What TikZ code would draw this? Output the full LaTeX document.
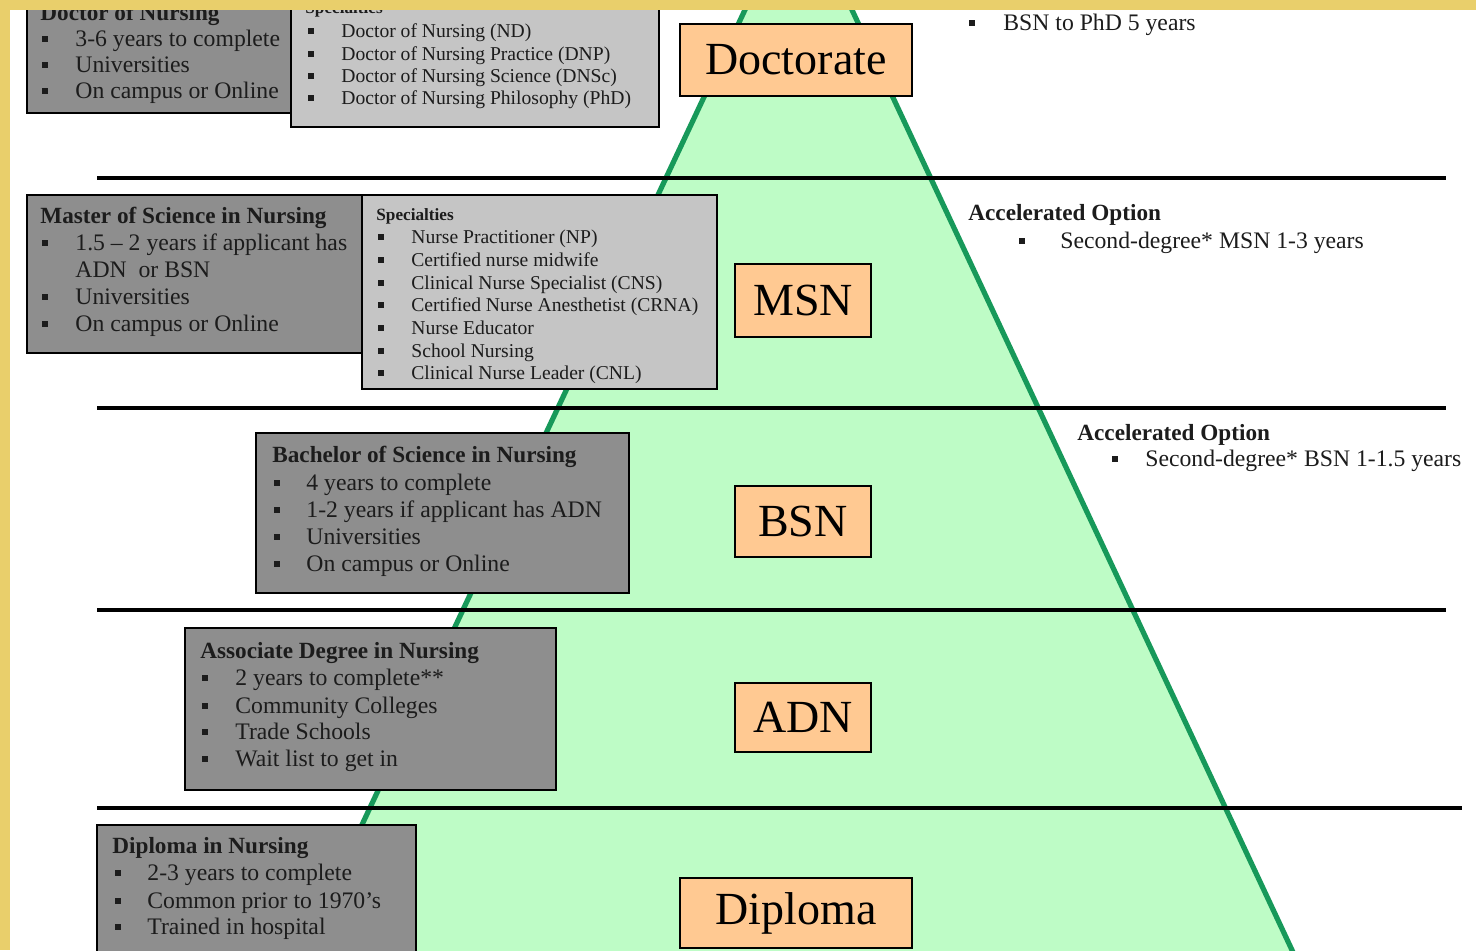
\documentclass[tikz,border=0pt]{standalone}
\usepackage{fontspec}
\setmainfont{Liberation Serif}
\definecolor{yband}{HTML}{E9CF6B}
\definecolor{pyrfill}{HTML}{BEFCC6}
\definecolor{pyredge}{HTML}{17995A}
\definecolor{darkgraybox}{HTML}{8E8E8E}
\definecolor{lightgraybox}{HTML}{C5C5C5}
\definecolor{degorange}{HTML}{FFC992}
\definecolor{textcol}{HTML}{1C1C1C}
\newcommand{\rbox}[6]{\node[#2, minimum width={(#5-#3)*0.5pt}, minimum height={(#6-#4)*0.5pt}] (#1) at ({(#3+#5)/2},{(#4+#6)/2}) {};}
\newcommand{\tline}[5]{\node[#2, anchor=base west] (#1) at (#3,#4) {#5};}
\newcommand{\bu}[3]{\node[sqb] (#1) at (#2,#3) {};}
\begin{document}
\begin{tikzpicture}[x=0.5pt,y=-0.5pt,
  darkbx/.style={rectangle, fill=darkgraybox, draw=black, line width=0.8pt, inner sep=0pt, outer sep=0pt},
  lightbx/.style={rectangle, fill=lightgraybox, draw=black, line width=0.8pt, inner sep=0pt, outer sep=0pt},
  degbox/.style={rectangle, fill=degorange, draw=black, line width=1.3pt, inner sep=0pt, outer sep=0pt, font=\fontsize{23}{27}\selectfont, text=black},
  sep/.style={line width=1.8pt, black},
  pedge/.style={line width=2.6pt, pyredge},
  bodytxt/.style={font=\fontsize{11.85}{13.5}\selectfont, text=textcol, inner sep=0pt},
  bodybold/.style={font=\fontsize{11.6}{13.5}\selectfont\bfseries, text=textcol, inner sep=0pt},
  spectxt/.style={font=\fontsize{9.8}{11}\selectfont, text=textcol, inner sep=0pt},
  specbold/.style={font=\fontsize{8.6}{10}\selectfont\bfseries, text=textcol, inner sep=0pt},
  sqb/.style={rectangle, fill=textcol, draw=none, minimum size=2.8pt, inner sep=0pt}]
\useasboundingbox (0,0) rectangle (1476,950);
\clip (0,0) rectangle (1476,950);
\fill[white] (0,0) rectangle (1476,950);
% pyramid
\coordinate (tL) at (759,-20);
\coordinate (tR) at (838,-20);
\coordinate (bL) at (289,980);
\coordinate (bR) at (1306,980);
\fill[pyrfill] (tL) -- (tR) -- (bR) -- (bL) -- cycle;
\draw[pedge] (tL) -- (bL);
\draw[pedge] (tR) -- (bR);
% separators
\coordinate (s1a) at (97,178);  \coordinate (s1b) at (1446,178);
\coordinate (s2a) at (97,408);  \coordinate (s2b) at (1446,408);
\coordinate (s3a) at (97,610);  \coordinate (s3b) at (1446,610);
\coordinate (s4a) at (97,808);  \coordinate (s4b) at (1462,808);
\draw[sep] (s1a) -- (s1b);
\draw[sep] (s2a) -- (s2b);
\draw[sep] (s3a) -- (s3b);
\draw[sep] (s4a) -- (s4b);
% ---------- Doctorate row
\rbox{docdark}{darkbx}{27}{-20}{300}{113}
\rbox{doclight}{lightbx}{291}{-20}{659}{127}
\tline{doctitle}{bodybold}{40}{20}{Doctor of Nursing}
\bu{db1}{45}{39} \tline{dt1}{bodytxt}{75}{46}{3-6 years to complete}
\bu{db2}{45}{65} \tline{dt2}{bodytxt}{75}{72}{Universities}
\bu{db3}{45}{91} \tline{dt3}{bodytxt}{75}{98}{On campus or Online}
\tline{docspec}{specbold}{305}{13}{Specialties}
\bu{dsb1}{311}{31} \tline{ds1}{spectxt}{341}{37}{Doctor of Nursing (ND)}
\bu{dsb2}{311}{54} \tline{ds2}{spectxt}{341}{60}{Doctor of Nursing Practice (DNP)}
\bu{dsb3}{311}{76} \tline{ds3}{spectxt}{341}{82}{Doctor of Nursing Science (DNSc)}
\bu{dsb4}{311}{98} \tline{ds4}{spectxt}{341}{104}{Doctor of Nursing Philosophy (PhD)}
\rbox{doclab}{degbox}{680}{24}{912}{96}
\node[degbox, draw=none, fill=none] (doclabt) at (796,60) {Doctorate};
\bu{rb0}{972}{23} \tline{rt0}{bodytxt}{1003}{30}{BSN to PhD 5 years}
% ---------- MSN row
\rbox{msndark}{darkbx}{27}{195}{365}{353}
\rbox{msnlight}{lightbx}{362}{195}{717}{389}
\tline{msntitle}{bodybold}{40}{223}{Master of Science in Nursing}
\bu{mb1}{45}{243} \tline{mt1}{bodytxt}{75}{250}{1.5 – 2 years if applicant has}
\tline{mt1b}{bodytxt}{75}{277}{ADN\ \ or BSN}
\bu{mb2}{45}{297} \tline{mt2}{bodytxt}{75}{304}{Universities}
\bu{mb3}{45}{324} \tline{mt3}{bodytxt}{75}{331}{On campus or Online}
\tline{msnspec}{specbold}{376}{220}{Specialties}
\bu{msb1}{381}{237} \tline{ms1}{spectxt}{411}{243}{Nurse Practitioner (NP)}
\bu{msb2}{381}{260} \tline{ms2}{spectxt}{411}{266}{Certified nurse midwife}
\bu{msb3}{381}{283} \tline{ms3}{spectxt}{411}{289}{Clinical Nurse Specialist (CNS)}
\bu{msb4}{381}{305} \tline{ms4}{spectxt}{411}{311}{Certified Nurse Anesthetist (CRNA)}
\bu{msb5}{381}{328} \tline{ms5}{spectxt}{411}{334}{Nurse Educator}
\bu{msb6}{381}{351} \tline{ms6}{spectxt}{411}{357}{School Nursing}
\bu{msb7}{381}{373} \tline{ms7}{spectxt}{411}{379}{Clinical Nurse Leader (CNL)}
\rbox{msnlab}{degbox}{735}{264}{871}{337}
\node[degbox, draw=none, fill=none] (msnlabt) at (803,300) {MSN};
\tline{acc1}{bodybold}{968}{220}{Accelerated Option}
\bu{ab1}{1022}{241} \tline{at1}{bodytxt}{1060}{248}{Second-degree* MSN 1-3 years}
% ---------- BSN row
\rbox{bsnbox}{darkbx}{256}{433}{629}{593}
\tline{bsntitle}{bodybold}{272}{462}{Bachelor of Science in Nursing}
\bu{bb1}{277}{483} \tline{bt1}{bodytxt}{306}{490}{4 years to complete}
\bu{bb2}{277}{510} \tline{bt2}{bodytxt}{306}{517}{1-2 years if applicant has ADN}
\bu{bb3}{277}{537} \tline{bt3}{bodytxt}{306}{544}{Universities}
\bu{bb4}{277}{564} \tline{bt4}{bodytxt}{306}{571}{On campus or Online}
\rbox{bsnlab}{degbox}{735}{486}{871}{557}
\node[degbox, draw=none, fill=none] (bsnlabt) at (803,521) {BSN};
\tline{acc2}{bodybold}{1077}{440}{Accelerated Option}
\bu{ab2}{1115}{459} \tline{at2}{bodytxt}{1145}{466}{Second-degree* BSN 1-1.5 years}
% ---------- ADN row
\rbox{adnbox}{darkbx}{185}{628}{556}{790}
\tline{adntitle}{bodybold}{200}{658}{Associate Degree in Nursing}
\bu{nb1}{205}{678} \tline{nt1}{bodytxt}{235}{685}{2 years to complete**}
\bu{nb2}{205}{706} \tline{nt2}{bodytxt}{235}{713}{Community Colleges}
\bu{nb3}{205}{732} \tline{nt3}{bodytxt}{235}{739}{Trade Schools}
\bu{nb4}{205}{759} \tline{nt4}{bodytxt}{235}{766}{Wait list to get in}
\rbox{adnlab}{degbox}{735}{683}{871}{752}
\node[degbox, draw=none, fill=none] (adnlabt) at (803,717) {ADN};
% ---------- Diploma row
\rbox{dipbox}{darkbx}{97}{825}{416}{1000}
\tline{diptitle}{bodybold}{112}{853}{Diploma in Nursing}
\bu{pb1}{118}{873} \tline{pt1}{bodytxt}{147}{880}{2-3 years to complete}
\bu{pb2}{118}{901} \tline{pt2}{bodytxt}{147}{908}{Common prior to 1970’s}
\bu{pb3}{118}{927} \tline{pt3}{bodytxt}{147}{934}{Trained in hospital}
\rbox{diplab}{degbox}{680}{878}{912}{948}
\node[degbox, draw=none, fill=none] (diplabt) at (796,913) {Diploma};
% yellow frame
\fill[yband] (0,0) rectangle (1476,10);
\fill[yband] (0,0) rectangle (10,950);
\end{tikzpicture}
\end{document}
